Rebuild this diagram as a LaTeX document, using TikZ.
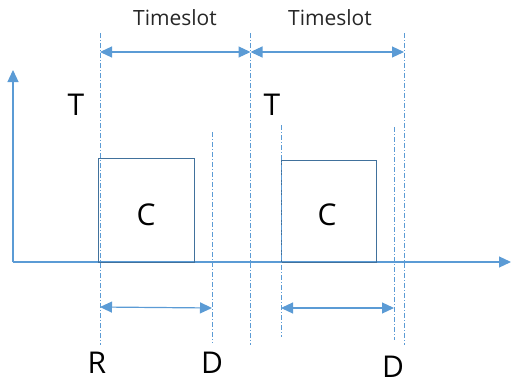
\documentclass[tikz,border=0pt]{standalone}
\usepackage{fontspec}
\setmainfont{Open Sans}
\usetikzlibrary{arrows.meta}
\definecolor{lb}{HTML}{5B9BD5}
\definecolor{db}{HTML}{41719C}
\tikzset{
  tip/.style={Triangle[length=12pt,width=11pt]},
  axisline/.style={draw=lb, line width=1.2pt, -{Triangle[length=12pt,width=11pt]}},
  guide/.style={draw=lb, line width=1pt, dash pattern=on 5pt off 2pt on 1pt off 2pt},
  span/.style={draw=lb, line width=1.2pt, {Triangle[length=12pt,width=11pt]}-{Triangle[length=12pt,width=11pt]}},
  taskbox/.style={draw=db, line width=1pt},
  big/.style={font=\fontsize{30}{30}\selectfont, text=black, inner sep=0pt},
  small/.style={font=\fontsize{21}{21}\selectfont, text=black!85, inner sep=0pt}
}
\begin{document}
\begin{tikzpicture}[x=1pt,y=-1pt]
\useasboundingbox (0,0) rectangle (512,386);
% axes
\coordinate (o) at (13,262);
\coordinate (ytop) at (13,70);
\coordinate (xend) at (511,262);
\draw[axisline] (o) -- (ytop);
\draw[axisline] (o) -- (xend);
% boxes
\draw[taskbox] (98,158) rectangle (194,262);
\draw[taskbox] (281,160) rectangle (376,262);
\node[big] (c1) at (146,215) {C};
\node[big] (c2) at (327,215) {C};
% guide lines
\coordinate (g1t) at (100,33); \coordinate (g1b) at (100,345);
\coordinate (g2t) at (250.5,33); \coordinate (g2b) at (250.5,345);
\coordinate (g3t) at (404,33); \coordinate (g3b) at (404,345);
\coordinate (d1t) at (212,132); \coordinate (d1b) at (212,343);
\coordinate (r2t) at (281,125); \coordinate (r2b) at (281,337);
\coordinate (d2t) at (394,127); \coordinate (d2b) at (394,340);
\foreach \a/\b in {g1t/g1b,g2t/g2b,g3t/g3b,d1t/d1b,r2t/r2b,d2t/d2b}
  \draw[guide] (\a) -- (\b);
% timeslot arrows
\coordinate (ts1a) at (100,52); \coordinate (ts1b) at (250.5,52);
\coordinate (ts2a) at (250.5,52); \coordinate (ts2b) at (404,52);
\draw[span] (ts1a) -- (ts1b);
\draw[span] (ts2a) -- (ts2b);
\node[small] (tl1) at (175,18) {Timeslot};
\node[small] (tl2) at (330,18) {Timeslot};
% window arrows
\coordinate (w1a) at (100,307); \coordinate (w1b) at (212,308);
\coordinate (w2a) at (281,308); \coordinate (w2b) at (394,308);
\draw[span] (w1a) -- (w1b);
\draw[span] (w2a) -- (w2b);
% labels
\node[big] (t1) at (76,105) {T};
\node[big] (t2) at (272,105) {T};
\node[big] (r1) at (97,363) {R};
\node[big] (dl1) at (212,363) {D};
\node[big] (dl2) at (393,367) {D};
\end{tikzpicture}
\end{document}
